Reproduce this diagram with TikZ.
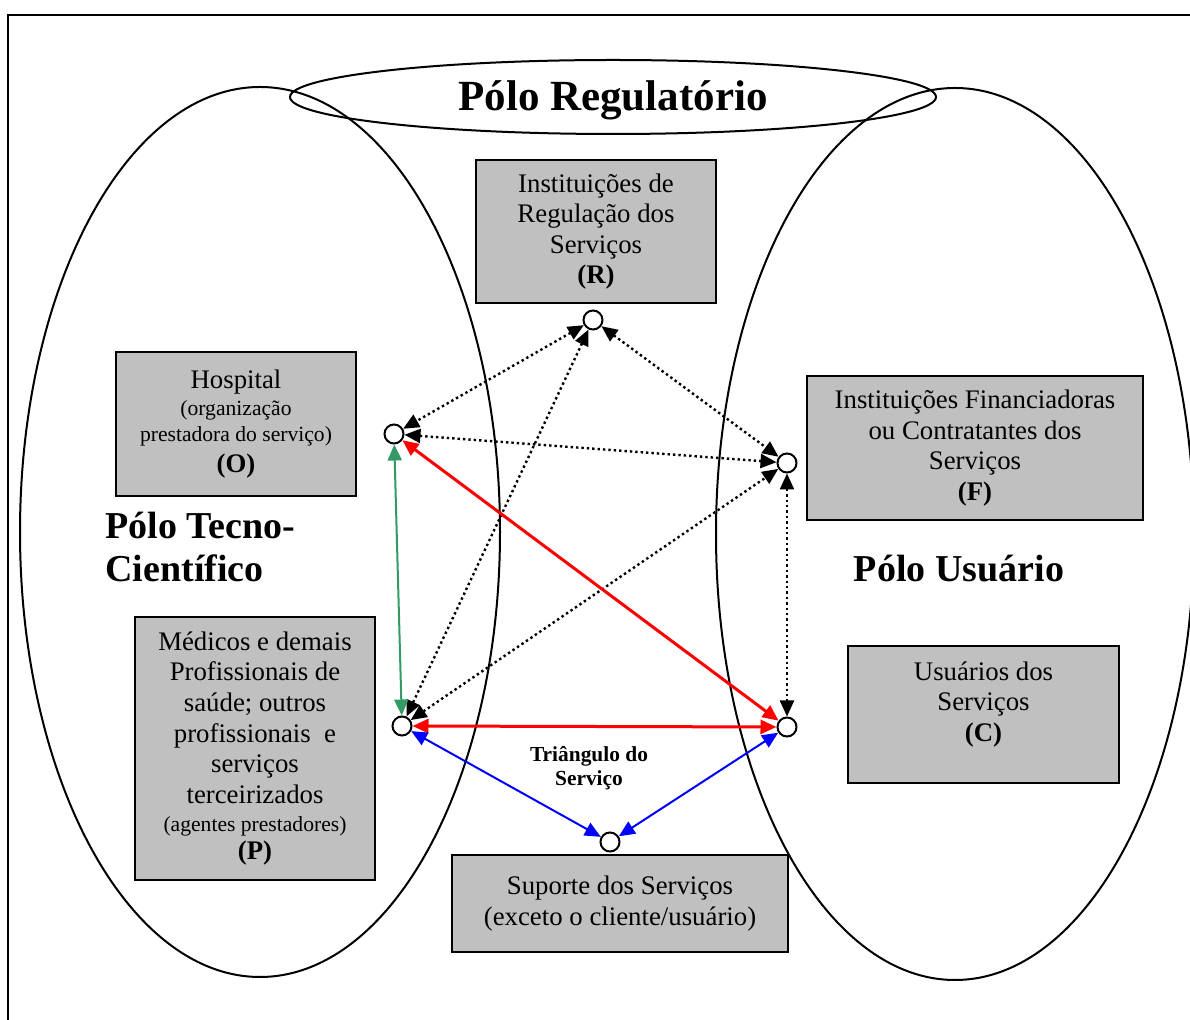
\documentclass[tikz,border=0pt]{standalone}
\usepackage{fontspec}
\setmainfont{Liberation Serif}
\usetikzlibrary{arrows.meta,positioning}
\definecolor{boxgray}{HTML}{C0C0C0}
\definecolor{seagreen}{HTML}{339966}
\newcommand{\sm}{\fontsize{10.8}{12.5}\selectfont}

\begin{document}
\begin{tikzpicture}[x=0.5pt,y=-0.5pt]
 \tikzset{box/.style = {draw, line width=1pt, fill=boxgray, align=center, inner sep=0pt,
   font=\fontsize{13.4}{15.3}\selectfont}}
 \tikzset{vertex/.style = {shape=circle, draw, line width=1pt, fill=white, minimum size=9.5pt, inner sep=0pt}}
 \tikzset{edge/.style = {{Triangle[length=8pt,width=7pt]}-{Triangle[length=8pt,width=7pt]}}}
 \tikzset{dots/.style = {edge, line width=1.2pt, dash pattern=on 1.2pt off 1.5pt}}
 \tikzset{polo/.style = {font=\fontsize{19}{21.5}\selectfont\bfseries}}
 \useasboundingbox (0,0) rectangle (1190,1020);

 % frame and poles
 \draw[line width=1pt] (8,1020) -- (8,15) -- (1190,15);
 \draw[line width=1pt] (260,532) ellipse [x radius=240, y radius=445];
 \draw[line width=1pt] (955,534) ellipse [x radius=239, y radius=446];
 \draw[line width=1pt] (613,97) ellipse [x radius=323, y radius=37];

 \node[polo, font=\fontsize{21.5}{24}\selectfont\bfseries] (reg) at (613,100) {Pólo Regulatório};
 \node[polo, align=left, anchor=west, inner sep=0pt] (tec) at (105,547) {Pólo Tecno-\\Científico};
 \node[polo] (usu) at (959,569) {Pólo Usuário};

 % boxes
 \node[box, minimum width=120pt, minimum height=71.5pt] (R) at (596,231.5)
   {Instituições de\\Regulação dos\\Serviços\\\textbf{(R)}};
 \node[box, minimum width=120pt, minimum height=72pt] (O) at (236,424)
   {Hospital\\[-1.5pt]{\sm (organização}\\[-2.5pt]{\sm prestadora do serviço)}\\[0.5pt]\textbf{(O)}};
 \node[box, minimum width=168pt, minimum height=72pt] (F) at (975,448)
   {Instituições Financiadoras\\ou Contratantes dos\\Serviços\\\textbf{(F)}};
 \node[box, minimum width=120pt, minimum height=131.5pt] (P) at (255,748.5)
   {Médicos e demais\\Profissionais de\\saúde; outros\\profissionais\ \ e\\serviços\\terceirizados\\[-1pt]{\sm (agentes prestadores)}\\[-1.5pt]\textbf{(P)}};
 \node[box, minimum width=135.5pt, minimum height=68.5pt] (C) at (983.5,714.5) {};
 \node[align=center, inner sep=0pt, font=\fontsize{13.4}{15.3}\selectfont, below=8pt of C.north] (Ctxt)
   {Usuários dos\\Serviços\\\textbf{(C)}};
 \node[box, minimum width=168pt, minimum height=48.5pt] (S) at (620,903.5)
   {Suporte dos Serviços\\(exceto o cliente/usuário)};

 \node[font=\fontsize{10.7}{12}\selectfont\bfseries, align=center] (tri) at (589,768) {Triângulo do\\Serviço};

 % vertices
 \node[vertex] (r) at (593,320) {};
 \node[vertex] (o) at (394,434) {};
 \node[vertex] (f) at (787,463) {};
 \node[vertex] (p) at (402,726) {};
 \node[vertex] (c) at (787,727) {};
 \node[vertex] (s) at (610,842) {};

 %edges
 \draw[dots] (r) to (o);
 \draw[dots] (r) to (p);
 \draw[dots] (r) to (f);
 \draw[dots] (o) to (f);
 \draw[dots] (p) to (f);
 \draw[dots] (f) to (c);
 \draw[edge, red, line width=1.5pt] (o) to (c);
 \draw[edge, red, line width=1.5pt] (p) to (c);
 \draw[edge, seagreen, line width=1pt] (o) to (p);
 \draw[edge, blue, line width=1pt] (p) to (s);
 \draw[edge, blue, line width=1pt] (s) to (c);
\end{tikzpicture}
\end{document}
